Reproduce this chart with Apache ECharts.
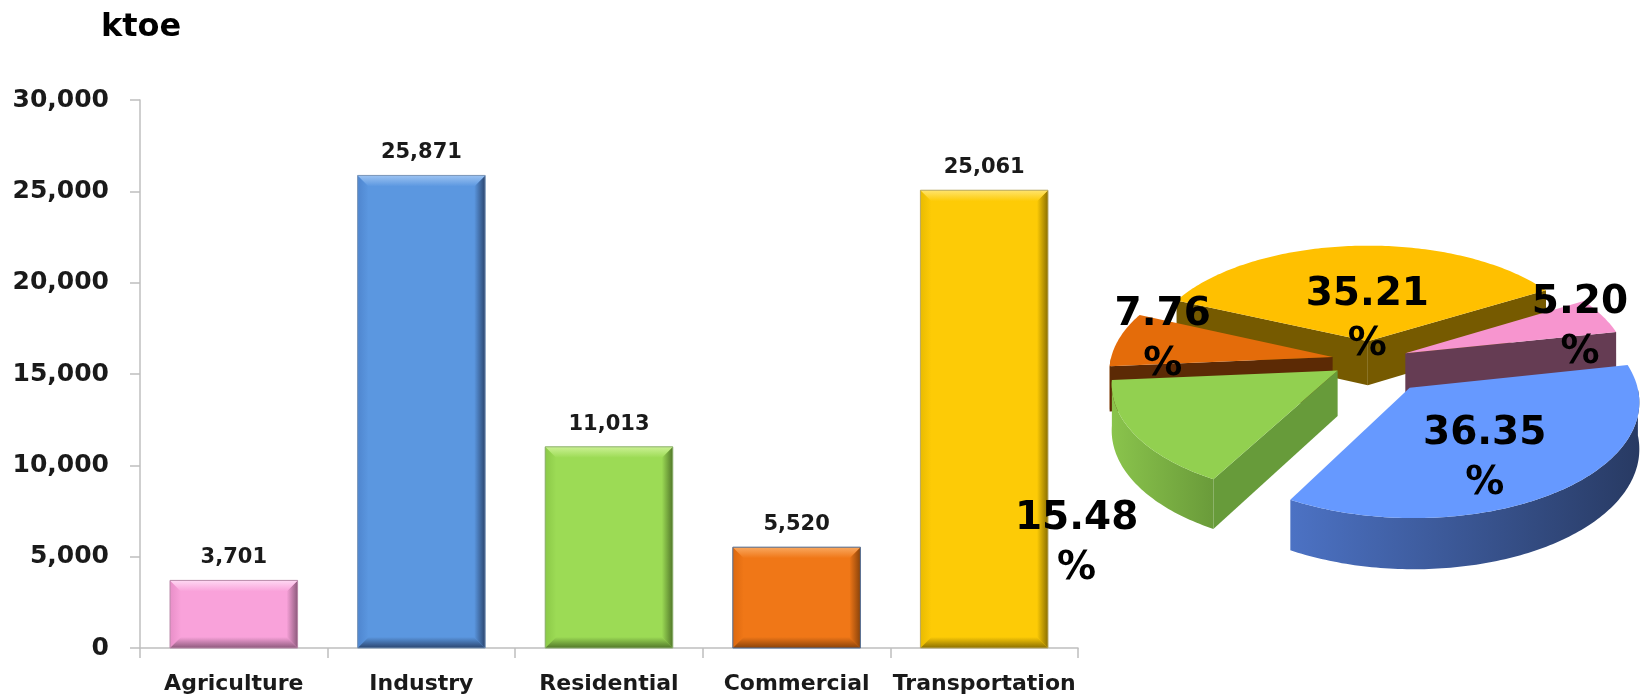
<!DOCTYPE html>
<html>
<head>
<meta charset="utf-8">
<script src="https://cdn.jsdelivr.net/npm/echarts@6/dist/echarts.min.js"></script>
<style>
html,body{margin:0;padding:0;background:#fff;}
#chart{width:1647px;height:699px;}
</style>
</head>
<body>
<div id="chart"></div>
<script>
// ---------------- data ----------------
const categories = ['Agriculture', 'Industry', 'Residential', 'Commercial', 'Transportation'];
const energyKtoe = [3701, 25871, 11013, 5520, 25061];
const unitLabel = 'ktoe';
const yMin = 0, yMax = 30000, yStep = 5000;

// ---------------- styles / layout ----------------
const FONT = 'DejaVu Sans';
const barStyles = [
  {base:'#F9A2DA', light:'#FFD8F3', left:'#E88FC8', dark:'#8E5B7D', stroke:'#B88AA8'},
  {base:'#5B97E0', light:'#9CC3F2', left:'#4F86CF', dark:'#2B4670', stroke:'#7D97B8'},
  {base:'#9CDB55', light:'#CBF193', left:'#8BC948', dark:'#52782A', stroke:'#8EAF72'},
  {base:'#F07717', light:'#F9A860', left:'#DC6910', dark:'#8A430A', stroke:'#4F6F9A'},
  {base:'#FDCB06', light:'#FFE46E', left:'#E9BB02', dark:'#8C7000', stroke:'#B8A866'}
];
const pieStyles = [
  {top:'#F795CF', wall:'#653C53', outer:['#D07FAE','#8A5274']},
  {top:'#6699FF', wall:'#3A5794', outer:['#4C72C4','#283A63']},
  {top:'#92D050', wall:'#679B3A', outer:['#8AC44C','#6A9B3A']},
  {top:'#E46C0A', wall:'#5C2A05', outer:['#B85708','#7A3905']},
  {top:'#FFC000', wall:'#765A00', outer:['#C99800','#8A6B00']}
];
const PIE = {cx:1370, cy:360, R:222, k:0.505, p:0.11, depth:45, explode:38, startAngle:30};
const pieExplodeOverride = {1: 66};
// label placement in pie plane: radius fraction and angle (deg)
const pieLabelPlace = [
  {rho:0.85, ang:16},
  {rho:0.64, ang:298},
  {rho:1.66, ang:233},
  {rho:0.80, ang:168.6},
  {rho:0.20, ang:90.7}
];

const fmt = v => v.toLocaleString('en-US');
const total = energyKtoe.reduce((a, b) => a + b, 0);

// slice angles (clockwise from startAngle)
let cum = 0;
const slices = energyKtoe.map((v, i) => {
  const span = v / total * 360;
  const a1 = PIE.startAngle - cum;
  const a0 = a1 - span;
  cum += span;
  return {a0, a1, mid: (a0 + a1) / 2};
});
const rad = d => d * Math.PI / 180;

function proj(u, v, z) {
  const f = 1 - PIE.p * v / PIE.R;
  return [PIE.cx + u * f, PIE.cy - PIE.k * v * f + z * f];
}

function renderBar(params, api) {
  const i = api.value(0), v = api.value(1);
  const top = api.coord([i, v]);
  const base = api.coord([i, 0]);
  const band = api.size([1, 0])[0];
  const w = band * 0.68;
  const x0 = top[0] - w / 2, x1 = top[0] + w / 2, y0 = top[1], y1 = base[1];
  const b = Math.min(11, (y1 - y0) / 2);
  const s = barStyles[i];
  const lin = (x, y, x2, y2, c0, c1) => ({type:'linear', x, y, x2, y2, colorStops:[{offset:0,color:c0},{offset:1,color:c1}]});
  return {
    type: 'group',
    children: [
      {type:'rect', shape:{x:x0, y:y0, width:w, height:y1 - y0}, style:{fill:s.base}},
      {type:'polygon', shape:{points:[[x0,y0],[x0+b,y0+b],[x0+b,y1-b],[x0,y1]]}, style:{fill:lin(0,0,1,0,s.left,s.base)}},
      {type:'polygon', shape:{points:[[x1,y0],[x1,y1],[x1-b,y1-b],[x1-b,y0+b]]}, style:{fill:lin(0,0,1,0,s.base,s.dark)}},
      {type:'polygon', shape:{points:[[x0,y1],[x1,y1],[x1-b,y1-b],[x0+b,y1-b]]}, style:{fill:lin(0,0,0,1,s.base,s.dark)}},
      {type:'polygon', shape:{points:[[x0,y0],[x1,y0],[x1-b,y0+b],[x0+b,y0+b]]}, style:{fill:lin(0,0,0,1,s.light,s.base)}},
      {type:'rect', shape:{x:x0, y:y0, width:w, height:y1 - y0}, style:{fill:'none', stroke:s.stroke, lineWidth:1}},
      {type:'text', style:{text:fmt(v), x:top[0], y:y0 - 12, align:'center', verticalAlign:'bottom',
        fontSize:21, fontWeight:'bold', fontFamily:FONT, fill:'#1a1a1a'}}
    ]
  };
}

function renderPie(params, api) {
  const i = params.dataIndex;
  const sl = slices[i];
  const st = pieStyles[i];
  const e = pieExplodeOverride[i] != null ? pieExplodeOverride[i] : PIE.explode;
  const eu = e * Math.cos(rad(sl.mid)), ev = e * Math.sin(rad(sl.mid));
  const R = PIE.R, D = PIE.depth;
  const pt = (ang, z) => proj(eu + R * Math.cos(rad(ang)), ev + R * Math.sin(rad(ang)), z);
  const rank = -Math.sin(rad(sl.mid));
  const zb = Math.round((rank + 1) * 20) * 10;
  const children = [];
  const steps = Math.max(2, Math.ceil(sl.a1 - sl.a0));
  let run = [];
  const flush = () => {
    if (run.length > 1) {
      const topPts = run.map(a => pt(a, 0));
      const botPts = run.slice().reverse().map(a => pt(a, D));
      children.push({type:'polygon', z2: zb + 1, shape:{points: topPts.concat(botPts)},
        style:{fill:{type:'linear', x:0, y:0, x2:1, y2:0, colorStops:[{offset:0,color:st.outer[0]},{offset:1,color:st.outer[1]}]}}});
    }
    run = [];
  };
  for (let s = 0; s <= steps; s++) {
    const a = sl.a0 + (sl.a1 - sl.a0) * s / steps;
    if (Math.sin(rad(a)) <= 0.0001) run.push(a); else flush();
  }
  flush();
  const apexT = proj(eu, ev, 0), apexB = proj(eu, ev, D);
  const wall = (ang, color) => children.push({type:'polygon', z2: zb + 2,
    shape:{points:[apexT, pt(ang, 0), pt(ang, D), apexB]}, style:{fill:color}});
  if (Math.cos(rad(sl.a0)) > 0) wall(sl.a0, st.wall);
  if (Math.cos(rad(sl.a1)) < 0) wall(sl.a1, st.wall);
  const topPts = [apexT];
  for (let s = 0; s <= steps; s++) topPts.push(pt(sl.a0 + (sl.a1 - sl.a0) * s / steps, 0));
  children.push({type:'polygon', z2: zb + 3, shape:{points: topPts}, style:{fill: st.top}});
  const lp = pieLabelPlace[i];
  const lpos = proj(eu + lp.rho * R * Math.cos(rad(lp.ang)), ev + lp.rho * R * Math.sin(rad(lp.ang)), 0);
  const pct = (api.value(0) / total * 100).toFixed(2);
  children.push({type:'text', z2: 1000, style:{text: pct + '\n%', x: lpos[0], y: lpos[1], align:'center',
    verticalAlign:'middle', fontSize:39, lineHeight:50, fontWeight:'bold', fontFamily:FONT, fill:'#000'}});
  return {type:'group', children};
}

const chart = echarts.init(document.getElementById('chart'), null, {renderer:'canvas'});
chart.setOption({
  animation: false,
  backgroundColor: '#fff',
  title: {text: unitLabel, left: 101, top: 12, padding: 0,
    textStyle: {fontSize: 32, fontWeight: 'bold', fontFamily: FONT, color: '#000'}},
  grid: {left: 140, right: 569, top: 100, bottom: 51, containLabel: false},
  xAxis: {
    type: 'category', data: categories, boundaryGap: true,
    axisLine: {lineStyle: {color: '#BFBFBF', width: 1.5}},
    axisTick: {show: true, length: 10, lineStyle: {color: '#BFBFBF', width: 1.5}},
    axisLabel: {interval: 0, fontSize: 22, fontWeight: 'bold', fontFamily: FONT, color: '#1a1a1a', margin: 25}
  },
  yAxis: {
    type: 'value', min: yMin, max: yMax, interval: yStep,
    axisLine: {show: true, lineStyle: {color: '#BFBFBF', width: 1.5}},
    axisTick: {show: true, length: 10, lineStyle: {color: '#BFBFBF', width: 1.5}},
    splitLine: {show: false},
    axisLabel: {fontSize: 25, fontWeight: 'bold', fontFamily: FONT, color: '#1a1a1a', margin: 31,
      formatter: v => fmt(v)}
  },
  series: [
    {type: 'custom', coordinateSystem: 'cartesian2d', z: 2,
      encode: {x: 0, y: 1},
      data: energyKtoe.map((v, i) => [i, v]),
      renderItem: renderBar},
    {type: 'custom', coordinateSystem: 'none', z: 5,
      data: energyKtoe.map(v => [v]),
      renderItem: renderPie}
  ]
});
</script>
</body>
</html>
